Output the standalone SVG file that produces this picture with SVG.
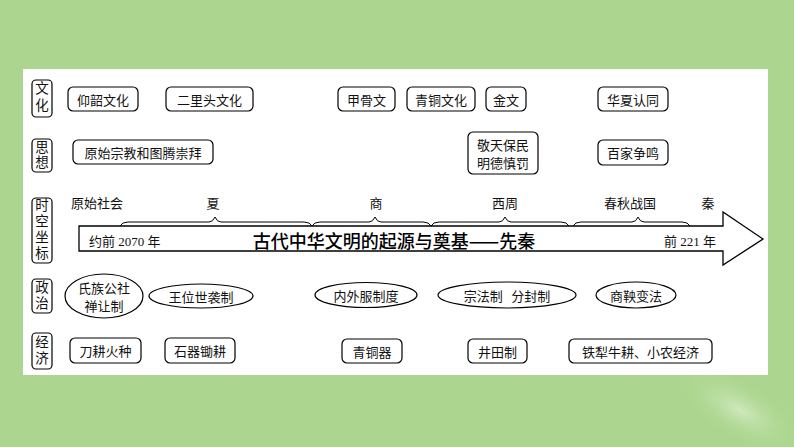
<svg xmlns="http://www.w3.org/2000/svg" width="794" height="447" viewBox="0 0 794 447">
<defs>
<style>
.bx{fill:#fff;stroke:#000;stroke-width:1.2}
.el{fill:#fff;stroke:#000;stroke-width:1.2}
.lb{fill:#fff;stroke:#000;stroke-width:1.2}
.t{font-family:"Noto Sans CJK SC","Liberation Serif",serif;font-size:13px;fill:#111;text-anchor:middle;dominant-baseline:central}
.lt{font-family:"Noto Sans CJK SC",sans-serif;font-size:13.5px;fill:#111;text-anchor:middle;writing-mode:vertical-rl}
.yr{font-family:"Liberation Serif","Noto Sans CJK SC",serif;font-size:13px;fill:#111;dominant-baseline:central}
.title{font-family:"Noto Sans CJK SC",sans-serif;font-size:18px;font-weight:500;fill:#000;text-anchor:middle;dominant-baseline:central}
.br{fill:none;stroke:#000;stroke-width:1}
</style>
<radialGradient id="glow" cx="0.5" cy="0.5" r="0.5">
<stop offset="0" stop-color="#dff0d0" stop-opacity="0.7"/>
<stop offset="1" stop-color="#acd68f" stop-opacity="0"/>
</radialGradient>
</defs>
<rect x="0" y="0" width="794" height="447" fill="#acd68f"/>
<ellipse cx="740" cy="410" rx="70" ry="30" fill="url(#glow)" transform="rotate(30 740 410)"/>
<rect x="23" y="69" width="745" height="306" fill="#fff"/>

<g id="row-labels">
<g id="lbl-wenhua"><rect class="lb" x="32" y="80" width="20" height="37" rx="4"/><text class="lt" x="42" y="98.5" letter-spacing="3.5">文化</text></g>
<g id="lbl-sixiang"><rect class="lb" x="32" y="139" width="20" height="33" rx="4"/><text class="lt" x="42" y="155.5" letter-spacing="1.5">思想</text></g>
<g id="lbl-shikong"><rect class="lb" x="32" y="198" width="20" height="65" rx="4"/><text class="lt" x="42" y="230.5" letter-spacing="2.5">时空坐标</text></g>
<g id="lbl-zhengzhi"><rect class="lb" x="32" y="279" width="20" height="34" rx="4"/><text class="lt" x="42" y="296" letter-spacing="2.5">政治</text></g>
<g id="lbl-jingji"><rect class="lb" x="32" y="333" width="20" height="36" rx="4"/><text class="lt" x="42" y="351" letter-spacing="2.5">经济</text></g>
</g>

<g id="culture">
<g id="n-yangshao"><rect class="bx" x="68" y="87" width="70" height="24" rx="5"/><text class="t" x="103" y="99">仰韶文化</text></g>
<g id="n-erlitou"><rect class="bx" x="166" y="87" width="87" height="24" rx="5"/><text class="t" x="209.5" y="99">二里头文化</text></g>
<g id="n-jiagu"><rect class="bx" x="338" y="87" width="57" height="24" rx="5"/><text class="t" x="366.5" y="99">甲骨文</text></g>
<g id="n-qingtongwh"><rect class="bx" x="407" y="87" width="68" height="24" rx="5"/><text class="t" x="441" y="99">青铜文化</text></g>
<g id="n-jinwen"><rect class="bx" x="486" y="87" width="40" height="24" rx="5"/><text class="t" x="506" y="99">金文</text></g>
<g id="n-huaxia"><rect class="bx" x="598" y="87" width="70" height="24" rx="5"/><text class="t" x="633" y="99">华夏认同</text></g>
</g>

<g id="thought">
<g id="n-yuanshi"><rect class="bx" x="73" y="140" width="140" height="24" rx="5"/><text class="t" x="143" y="152">原始宗教和图腾崇拜</text></g>
<g id="n-jingtian"><rect class="bx" x="468" y="132" width="70" height="42" rx="5"/><text class="t" x="503" y="144"><tspan x="503" y="144">敬天保民</tspan><tspan x="503" y="162">明德慎罚</tspan></text></g>
<g id="n-baijia"><rect class="bx" x="598" y="140" width="70" height="25" rx="5"/><text class="t" x="633" y="152.5">百家争鸣</text></g>
</g>

<g id="timeline">
<polygon points="79,226 723,226 723,212 763,239 723,265 723,251 79,251" fill="#fff" stroke="#000" stroke-width="1.3" stroke-linejoin="miter"/>
<text class="yr" x="89" y="241">约前 2070 年</text>
<text class="title" x="394" y="240">古代中华文明的起源与奠基——先秦</text>
<text class="yr" x="664" y="241">前 221 年</text>
<g id="braces">
<path class="br" d="M120,226 Q122,222 128,222 L209,222 Q213,222 215,217 Q217,222 221,222 L304,222 Q310,222 312,226"/>
<path class="br" d="M312,226 Q314,222 320,222 L369,222 Q373,222 375,217 Q377,222 381,222 L423,222 Q429,222 431,226"/>
<path class="br" d="M431,226 Q433,222 439,222 L499,222 Q503,222 505,217 Q507,222 511,222 L561,222 Q567,222 569,226"/>
<path class="br" d="M573,226 Q575,222 581,222 L632,222 Q636,222 638,217 Q640,222 644,222 L682,222 Q688,222 690,226"/>
</g>
<text class="t" x="97" y="202">原始社会</text>
<text class="t" x="213" y="202">夏</text>
<text class="t" x="376" y="202">商</text>
<text class="t" x="505" y="202">西周</text>
<text class="t" x="630" y="202">春秋战国</text>
<text class="t" x="708" y="202">秦</text>
</g>

<g id="politics">
<g id="n-shizu"><ellipse class="el" cx="104" cy="296" rx="39" ry="22"/><text class="t" x="104" y="286.5" font-size="12.5"><tspan x="104" y="286.5">氏族公社</tspan><tspan x="104" y="304.5">禅让制</tspan></text></g>
<g id="n-wangwei"><ellipse class="el" cx="201" cy="296" rx="52" ry="12"/><text class="t" x="201" y="296">王位世袭制</text></g>
<g id="n-neiwai"><ellipse class="el" cx="366" cy="295" rx="51" ry="12.5"/><text class="t" x="366" y="295">内外服制度</text></g>
<g id="n-zongfa"><ellipse class="el" cx="507" cy="295" rx="69" ry="13"/><text class="t" x="507" y="295" xml:space="preserve">宗法制   分封制</text></g>
<g id="n-shangyang"><ellipse class="el" cx="636" cy="295" rx="40" ry="13"/><text class="t" x="636" y="295">商鞅变法</text></g>
</g>

<g id="economy">
<g id="n-daogeng"><rect class="bx" x="70" y="338" width="71" height="25" rx="5"/><text class="t" x="105.5" y="350.5">刀耕火种</text></g>
<g id="n-shiqi"><rect class="bx" x="165" y="338" width="70" height="25" rx="5"/><text class="t" x="200" y="350.5">石器锄耕</text></g>
<g id="n-qingtongqi"><rect class="bx" x="342" y="339" width="60" height="24" rx="5"/><text class="t" x="372" y="351">青铜器</text></g>
<g id="n-jingtian"><rect class="bx" x="468" y="339" width="59" height="24" rx="5"/><text class="t" x="497.5" y="351">井田制</text></g>
<g id="n-tieli"><rect class="bx" x="569" y="339" width="143" height="24" rx="5"/><text class="t" x="640.5" y="351">铁犁牛耕、小农经济</text></g>
</g>
</svg>
